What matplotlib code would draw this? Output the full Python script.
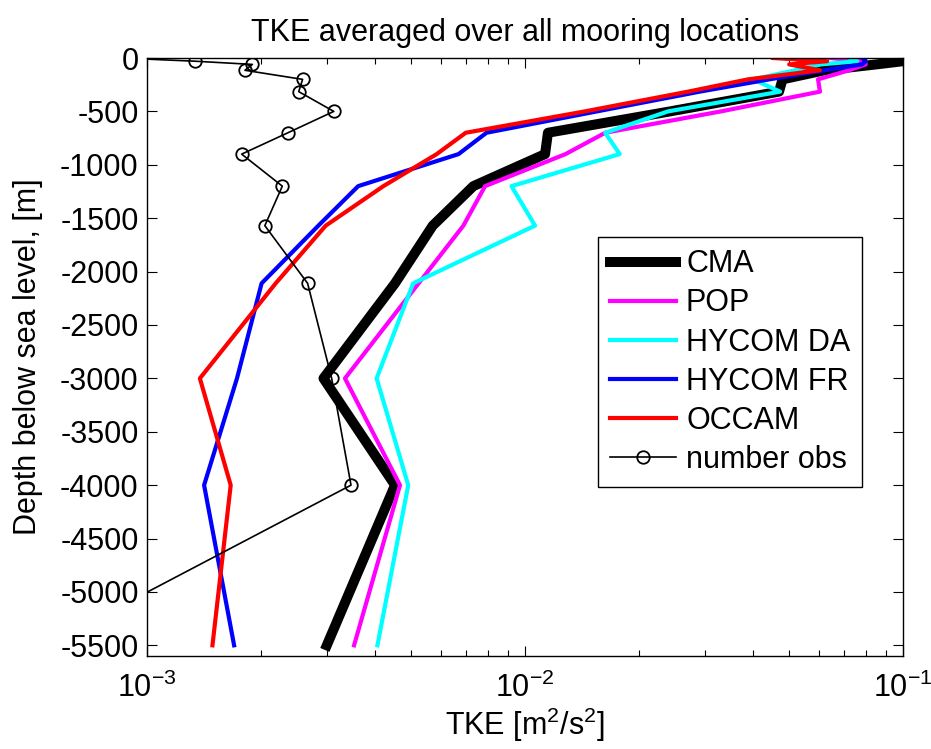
import matplotlib
matplotlib.use("Agg")
import matplotlib.pyplot as plt
from matplotlib.ticker import LogLocator, FixedLocator

plt.rcParams["font.family"] = ["Liberation Sans", "DejaVu Sans"]
plt.rcParams["mathtext.fontset"] = "custom"
plt.rcParams["mathtext.rm"] = "Liberation Sans"
plt.rcParams["mathtext.it"] = "Liberation Sans:italic"
plt.rcParams["mathtext.bf"] = "Liberation Sans:bold"
plt.rcParams["axes.unicode_minus"] = False

FS = 22

# depth levels (m) shared by all profiles
depth = [0, -30, -60, -115, -200, -315, -500, -700, -900, -1200, -1570, -2110, -3000, -4000, -5500]

# TKE [m^2/s^2]
cma = [0.1, 0.1, 0.085, 0.062, 0.048, 0.047, 0.0242, 0.0115, 0.0113, 0.0073, 0.0057, 0.00453, 0.00293, 0.00453, 0.00299]
pop = [0.0641, 0.0793, 0.0797, 0.072, 0.0596, 0.0603, 0.033, 0.0163, 0.0128, 0.00784, 0.00687, 0.00523, 0.00334, 0.00467, 0.00353]
hycom_da = [0.0725, 0.0757, 0.0606, 0.0518, 0.0401, 0.0473, 0.0239, 0.0163, 0.0178, 0.00921, 0.01063, 0.00506, 0.00405, 0.00491, 0.00407]
hycom_fr = [0.078, 0.0797, 0.078, 0.062, 0.0443, 0.029, 0.0155, 0.00791, 0.00667, 0.00362, 0.00284, 0.00201, 0.00173, 0.001416, 0.00170]
occam = [0.0453, 0.063, 0.050, 0.0603, 0.0389, 0.027, 0.0144, 0.00697, 0.00584, 0.00422, 0.00297, 0.00219, 0.00138, 0.001665, 0.00149]
# number of observations, scaled onto the TKE axis
n_obs = [8.5e-4, 1.34e-3, 1.90e-3, 1.816e-3, 2.58e-3, 2.52e-3, 3.12e-3, 2.36e-3, 1.78e-3, 2.28e-3, 2.05e-3, 2.66e-3, 3.08e-3, 3.465e-3, 5.4e-4]

yticks = list(range(-5500, 1, 500))

fig = plt.figure(figsize=(9.31, 7.49), dpi=100)
ax = fig.add_axes([147 / 931, 1 - 656 / 749, (903 - 147) / 931, (656 - 58) / 749])

ax.plot(cma, depth, color="k", lw=7.2, label="CMA")
ax.plot(pop, depth, color="#ff00ff", lw=3, label="POP")
ax.plot(hycom_da, depth, color="#00ffff", lw=3, label="HYCOM DA")
ax.plot(hycom_fr, depth, color="#0000ff", lw=3, label="HYCOM FR")
ax.plot(occam, depth, color="#ff0000", lw=3, label="OCCAM")
ax.plot(n_obs, depth, color="k", lw=1.2, marker="o", ms=9, mfc="none", mec="k", mew=1.3,
        label="number obs")

ax.set_xscale("log")
ax.set_xlim(1e-3, 1e-1)
ax.set_ylim(-5600, 0)
ax.yaxis.set_major_locator(FixedLocator(yticks))
ax.xaxis.set_major_locator(LogLocator(base=10, numticks=5))
ax.xaxis.set_minor_locator(LogLocator(base=10, subs=range(2, 10), numticks=20))

ax.tick_params(which="both", direction="in", top=True, right=True, labelsize=FS, width=0.8)
ax.tick_params(which="major", length=7)
ax.tick_params(which="minor", length=4)
ax.tick_params(axis="x", which="major", pad=12)
ax.tick_params(axis="y", which="major", pad=6)
for s in ax.spines.values():
    s.set_linewidth(1.0)

ax.set_title("TKE averaged over all mooring locations", fontsize=FS, pad=12)
ax.set_xlabel("TKE [m$^2$/s$^2$]", fontsize=FS, labelpad=1)
ax.set_ylabel("Depth below sea level, [m]", fontsize=FS, labelpad=12)

leg = ax.legend(loc="upper left", bbox_to_anchor=(598 / 931, 1 - 237 / 749),
                bbox_transform=fig.transFigure, borderaxespad=0, fontsize=FS,
                fancybox=False, framealpha=1, edgecolor="k", handlelength=2.15,
                handletextpad=0.33, labelspacing=0.3, borderpad=0.4)
leg.get_frame().set_linewidth(1.0)

fig.savefig("out.png", dpi=100)
